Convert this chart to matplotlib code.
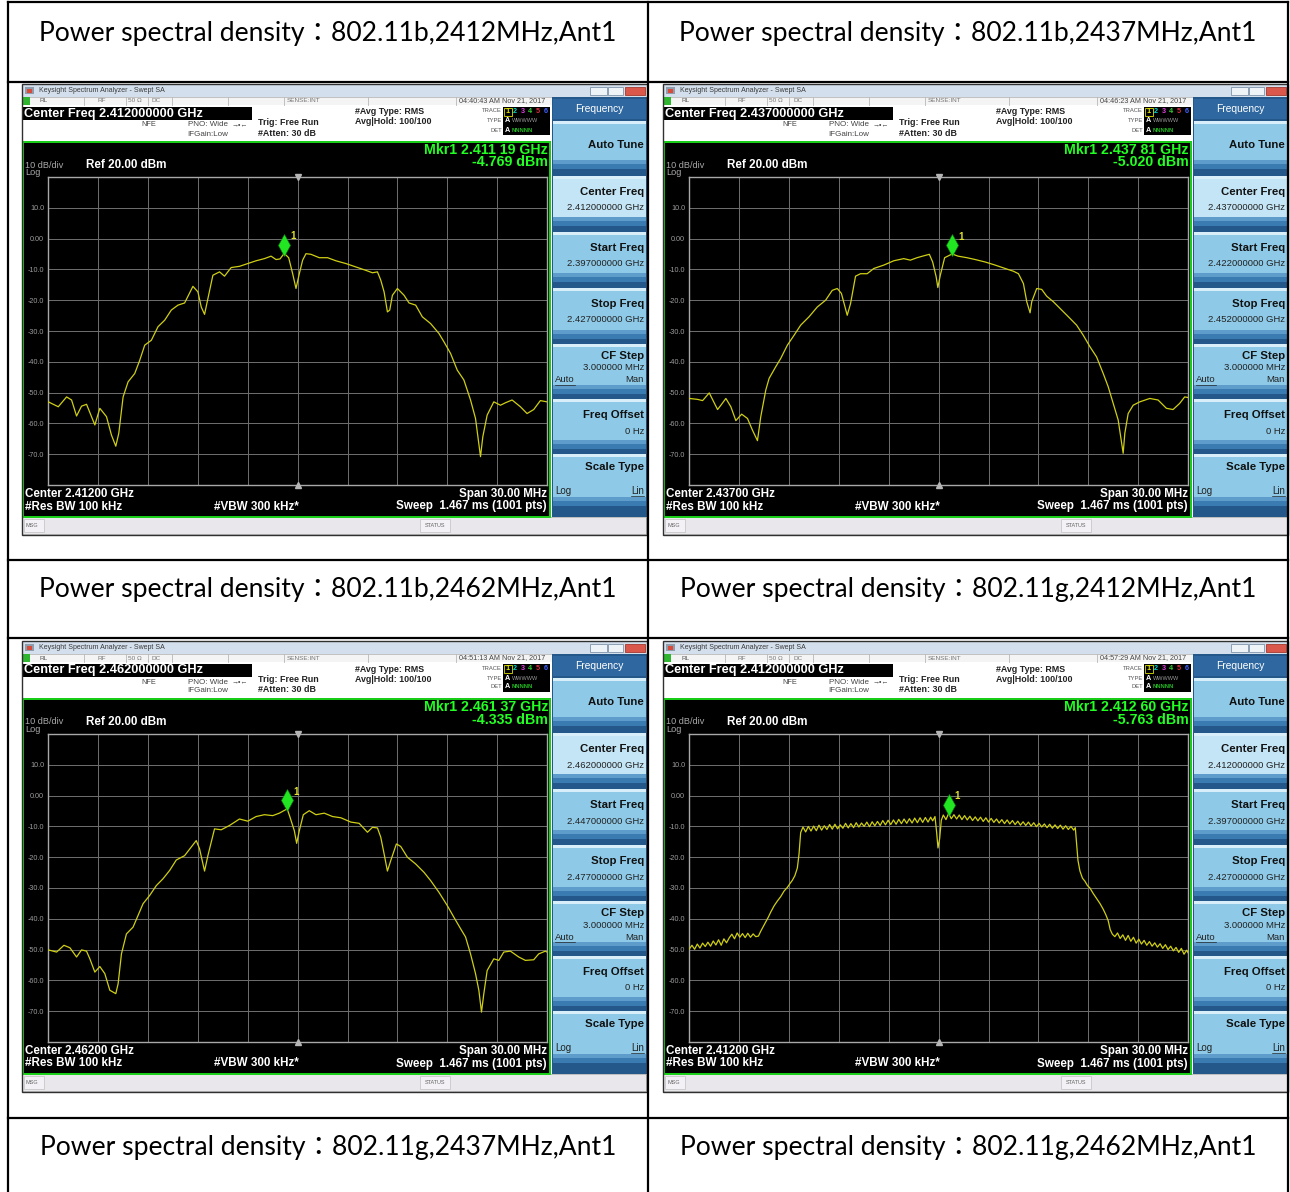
import numpy as np
import matplotlib.pyplot as plt
from matplotlib.patches import Rectangle

plt.rcParams['font.family'] = ['Liberation Sans', 'DejaVu Sans']

titles = [
    "Power spectral density：802.11b,2412MHz,Ant1",
    "Power spectral density：802.11b,2437MHz,Ant1",
    "Power spectral density：802.11b,2462MHz,Ant1",
    "Power spectral density：802.11g,2412MHz,Ant1",
    "Power spectral density：802.11g,2437MHz,Ant1",
    "Power spectral density：802.11g,2462MHz,Ant1",
]
centers = [2412, 2437, 2462, 2412]          # MHz
span = 30.0                                  # MHz
timestamps = ["04:40:43 AM Nov 21, 2017", "04:46:23 AM Nov 21, 2017",
              "04:51:13 AM Nov 21, 2017", "04:57:29 AM Nov 21, 2017"]
mkr_freq = [2411.19, 2437.81, 2461.37, 2412.60]   # MHz
mkr_level = [-4.769, -5.020, -4.335, -5.763]      # dBm
ylabels = ["10.0", "0.00", "-10.0", "-20.0", "-30.0", "-40.0", "-50.0", "-60.0", "-70.0"]

# trace 1 : 802.11b 2412 MHz  (offset from center in MHz, level in dBm)
off1 = [-15.0, -14.4, -13.9, -13.6, -13.3, -13.0, -12.7, -12.2, -11.9, -11.5,
        -11.2, -10.94, -10.76, -10.5, -10.2, -9.8, -9.5, -9.2, -8.8, -8.4,
        -8.0, -7.6, -7.2, -6.8, -6.3, -6.0, -5.8, -5.6, -5.4, -5.1,
        -4.7, -4.4, -4.0, -3.5, -3.0, -2.5, -2.0, -1.6, -1.3, -1.06,
        -0.81, -0.54, -0.3, -0.1, 0.1, 0.3, 0.5, 0.8, 1.3, 1.8,
        2.3, 2.9, 3.5, 4.1, 4.5, 4.8, 5.0, 5.2, 5.4, 5.54,
        5.7, 6.0, 6.4, 6.7, 7.1, 7.5, 8.0, 8.5, 8.8, 9.2,
        9.6, 10.0, 10.4, 10.7, 11.0, 11.14, 11.4, 11.8, 12.2, 12.5,
        12.9, 13.4, 13.8, 14.2, 14.6, 15.0]
lvl1 = [-53.0, -54.6, -51.4, -52.4, -57.6, -54.4, -53.8, -60.5, -55.1, -57.8,
        -63.8, -67.4, -63.2, -51.4, -46.5, -43.8, -39.5, -34.6, -33.0, -28.6,
        -26.5, -23.2, -21.6, -20.9, -15.5, -17.3, -22.2, -24.6, -19.5, -11.9,
        -10.8, -12.2, -9.4, -9.0, -8.1, -7.2, -6.5, -5.7, -6.8, -6.6,
        -4.8, -6.2, -11.4, -16.2, -11.4, -7.0, -4.9, -5.1, -6.2, -6.2,
        -7.2, -8.1, -9.2, -10.3, -11.1, -10.8, -13.5, -17.3, -23.8, -23.2,
        -18.4, -16.2, -18.4, -20.9, -21.6, -25.4, -27.6, -30.8, -33.5, -37.3,
        -42.7, -45.9, -52.4, -58.4, -70.8, -64.3, -57.3, -53.0, -54.1, -53.3,
        -52.4, -54.6, -56.8, -55.5, -52.6, -53.0]

# trace 2 : 802.11b 2437 MHz
off2 = [-15.0, -14.5, -14.2, -13.8, -13.3, -13.1, -12.8, -12.5, -12.2, -11.85,
        -11.5, -11.2, -10.9, -10.7, -10.4, -10.2, -9.8, -9.5, -9.1, -8.7,
        -8.3, -7.8, -7.3, -6.8, -6.4, -6.1, -5.85, -5.5, -5.3, -5.0,
        -4.7, -4.3, -3.9, -3.3, -2.7, -2.1, -1.7, -1.3, -0.97, -0.56,
        -0.36, -0.15, -0.05, 0.1, 0.36, 0.81, 1.17, 1.7, 2.2, 2.8,
        3.4, 4.0, 4.5, 4.8, 5.1, 5.3, 5.5, 5.6, 5.9, 6.2,
        6.5, 6.9, 7.4, 7.9, 8.3, 8.7, 9.1, 9.5, 9.9, 10.2,
        10.5, 10.8, 11.1, 11.2, 11.4, 11.7, 12.1, 12.7, 13.2, 13.7,
        14.1, 14.5, 14.8, 15.0]
lvl2 = [-51.9, -52.2, -52.6, -50.1, -55.5, -54.1, -51.9, -54.6, -59.1, -57.0,
        -58.4, -62.2, -65.6, -57.8, -49.2, -45.4, -41.6, -38.9, -34.6, -31.4,
        -28.1, -25.4, -22.2, -20.0, -16.8, -16.2, -17.8, -24.9, -21.1, -12.2,
        -11.4, -11.4, -9.7, -8.6, -7.2, -6.5, -7.0, -6.2, -5.7, -5.1,
        -7.6, -12.4, -15.9, -11.9, -6.2, -5.0, -5.7, -6.2, -6.8, -7.6,
        -8.6, -9.7, -10.6, -11.4, -14.6, -20.5, -24.1, -20.5, -16.2, -16.5,
        -18.7, -20.5, -23.2, -25.9, -28.1, -31.4, -35.1, -38.4, -43.8, -48.1,
        -53.5, -58.9, -69.7, -63.2, -56.8, -54.1, -53.0, -51.9, -52.4, -55.1,
        -55.5, -53.5, -51.4, -51.6]

# trace 3 : 802.11b 2462 MHz
off3 = [-15.0, -14.5, -14.06, -13.7, -13.3, -13.0, -12.7, -12.5, -12.2, -11.9,
        -11.6, -11.3, -10.94, -10.8, -10.6, -10.3, -9.9, -9.6, -9.3, -8.9,
        -8.5, -8.1, -7.7, -7.3, -6.8, -6.1, -5.9, -5.6, -5.4, -5.0,
        -4.6, -4.1, -3.5, -3.0, -2.5, -2.0, -1.5, -1.1, -0.63, -0.46,
        -0.2, -0.06, 0.1, 0.34, 0.7, 1.1, 1.6, 2.1, 2.6, 3.2,
        3.7, 4.2, 4.5, 4.8, 5.0, 5.2, 5.4, 5.6, 5.94, 6.2,
        6.6, 7.1, 7.6, 8.0, 8.5, 9.0, 9.4, 9.8, 10.1, 10.4,
        10.7, 10.9, 11.06, 11.2, 11.4, 11.8, 12.1, 12.4, 12.8, 13.3,
        13.7, 14.2, 14.5, 14.9, 15.0]
lvl3 = [-50.1, -50.8, -48.6, -49.4, -52.4, -50.1, -50.5, -53.0, -57.3, -55.5,
        -57.8, -63.2, -64.3, -61.1, -51.4, -44.9, -42.7, -38.9, -35.1, -32.4,
        -29.2, -27.0, -24.3, -20.9, -19.5, -14.6, -17.3, -24.5, -19.5, -10.8,
        -11.1, -9.7, -7.6, -8.3, -6.8, -6.2, -6.5, -5.7, -4.3, -7.0,
        -11.4, -15.5, -11.4, -6.2, -4.9, -6.2, -5.7, -6.8, -7.2, -8.6,
        -9.0, -11.9, -10.3, -10.5, -13.5, -18.9, -24.5, -21.1, -15.7, -16.5,
        -20.0, -22.2, -24.9, -27.6, -31.4, -35.7, -39.5, -43.2, -45.9, -51.4,
        -57.8, -63.2, -70.3, -64.3, -56.8, -53.0, -53.5, -50.8, -50.5, -52.4,
        -53.5, -53.3, -51.4, -50.5, -50.8]

# trace 4 : 802.11g 2412 MHz (OFDM ripple on the flat top)
off4 = [-15.0, -14.84, -14.68, -14.52, -14.36, -14.2, -14.04, -13.88, -13.72, -13.56,
        -13.4, -13.24, -13.08, -12.92, -12.76, -12.6, -12.44, -12.28, -12.12, -11.96,
        -11.8, -11.64, -11.48, -11.32, -11.16, -11.0, -10.84, -10.7, -10.55, -10.4,
        -10.25, -10.1, -9.9, -9.7, -9.5, -9.3, -9.1, -8.95, -8.8, -8.65,
        -8.5, -8.4, -8.3,
        -8.16, -8.0, -7.84, -7.68, -7.52, -7.36, -7.2, -7.04, -6.88, -6.72,
        -6.56, -6.4, -6.24, -6.08, -5.92, -5.76, -5.6, -5.44, -5.28, -5.12,
        -4.96, -4.8, -4.64, -4.48, -4.32, -4.16, -4.0, -3.84, -3.68, -3.52,
        -3.36, -3.2, -3.04, -2.88, -2.72, -2.56, -2.4, -2.24, -2.08, -1.92,
        -1.76, -1.6, -1.44, -1.28, -1.12, -0.96, -0.8, -0.64, -0.48,
        -0.36, -0.22, -0.12, -0.04, 0.06, 0.16, 0.28, 0.44, 0.6,
        0.76, 0.92, 1.08, 1.24, 1.4, 1.56, 1.72, 1.88, 2.04, 2.2,
        2.36, 2.52, 2.68, 2.84, 3.0, 3.16, 3.32, 3.48, 3.64, 3.8,
        3.96, 4.12, 4.28, 4.44, 4.6, 4.76, 4.92, 5.08, 5.24, 5.4,
        5.56, 5.72, 5.88, 6.04, 6.2, 6.36, 6.52, 6.68, 6.84, 7.0,
        7.16, 7.32, 7.48, 7.64, 7.8, 7.96, 8.12,
        8.22, 8.3, 8.38, 8.5, 8.65, 8.8, 8.95, 9.1, 9.3, 9.5,
        9.7, 9.9, 10.05, 10.2, 10.32, 10.45, 10.6, 10.76, 10.92, 11.08,
        11.24, 11.4, 11.56, 11.72, 11.88, 12.04, 12.2, 12.36, 12.52, 12.68,
        12.84, 13.0, 13.16, 13.32, 13.48, 13.64, 13.8, 13.96, 14.12, 14.28,
        14.44, 14.6, 14.76, 14.92, 15.0]
lvl4 = [-49.8, -48.6, -49.9, -48.2, -49.5, -47.9, -49.0, -47.6, -48.9, -47.2,
        -48.5, -46.8, -48.6, -46.5, -47.8, -46.2, -45.0, -46.5, -44.6, -46.0,
        -44.8, -46.1, -44.7, -46.0, -44.9, -45.8, -45.6, -44.0, -42.5, -41.0,
        -39.5, -37.8, -35.8, -34.2, -32.8, -31.0, -29.8, -28.6, -27.5, -26.0,
        -23.5, -19.0, -12.0,
        -10.2, -11.8, -10.0, -11.5, -9.9, -11.4, -9.6, -11.2, -9.8, -11.0,
        -9.4, -10.9, -9.3, -10.8, -9.5, -10.6, -9.0, -10.5, -9.1, -10.4,
        -8.8, -10.2, -8.9, -10.0, -8.6, -10.1, -8.5, -9.8, -8.4, -9.7,
        -8.1, -9.5, -8.0, -9.4, -7.9, -9.3, -7.7, -9.1, -7.6, -9.0,
        -7.5, -8.9, -7.3, -8.8, -7.2, -8.7, -7.1, -8.6, -7.0,
        -8.2, -6.8, -12.0, -17.0, -14.0, -8.0, -6.3, -7.8, -5.8,
        -7.5, -6.2, -7.6, -6.3, -7.8, -6.5, -7.9, -6.7, -8.1, -6.9,
        -8.2, -7.0, -8.4, -7.2, -8.6, -7.4, -8.7, -7.6, -8.9, -7.8,
        -9.1, -7.9, -9.2, -8.1, -9.4, -8.3, -9.6, -8.5, -9.7, -8.6,
        -9.9, -8.8, -10.1, -9.0, -10.2, -9.2, -10.4, -9.3, -10.6, -9.5,
        -10.7, -9.6, -10.9, -9.8, -11.0, -10.0, -11.2,
        -10.4, -15.5, -21.0, -24.5, -26.8, -27.8, -29.2, -30.0, -31.8, -33.4,
        -35.0, -36.9, -38.6, -40.6, -43.5, -45.0, -45.8, -44.6, -46.4, -45.2,
        -47.0, -45.4, -47.3, -46.0, -47.9, -46.6, -48.2, -47.0, -48.6, -47.4,
        -48.9, -47.8, -49.2, -48.1, -49.6, -48.4, -50.0, -48.9, -50.4, -49.3,
        -50.9, -49.6, -51.5, -50.2, -51.0]

offsets = [off1, off2, off3, off4]
levels = [lvl1, lvl2, lvl3, lvl4]

# ---------------- canvas in pixel coordinates ----------------
W, H = 1290, 1192
fig = plt.figure(figsize=(W / 100, H / 100), dpi=100)
fig.patch.set_facecolor('white')
bg = fig.add_axes([0, 0, 1, 1])
bg.set_xlim(0, W)
bg.set_ylim(H, 0)
bg.axis('off')


def box(x, y, w, h, fc, ec='none', lw=0.6, z=1):
    bg.add_patch(Rectangle((x, y), w, h, facecolor=fc, edgecolor=ec, linewidth=lw, zorder=z))


def txt(x, y, s, size=5.0, color='black', ha='left', weight='normal', **kw):
    bg.text(x, y, s, fontsize=size, color=color, ha=ha, va='center',
            fontweight=weight, zorder=6, **kw)


def draw_screen(k, ox, oy):
    c = centers[k]
    # window title bar
    box(ox, oy, 624, 13, '#d3dfec')
    box(ox + 3, oy + 3, 9, 7, '#8f9cab')
    box(ox + 5, oy + 4.5, 5, 4, '#d84a3a')
    txt(ox + 17, oy + 6.5, 'Keysight Spectrum Analyzer - Swept SA', 5.0, '#3a3a3a')
    box(ox + 568, oy + 3, 17, 8, '#eef3f8', '#7f93aa')
    box(ox + 586, oy + 3, 15, 8, '#eef3f8', '#7f93aa')
    box(ox + 603, oy + 3, 20, 8, '#d9574b', '#a33a30')

    # status line
    box(ox, oy + 13, 530, 8, '#f4f4f4', '#b8b8b8')
    box(ox, oy + 13, 8, 8, '#2fb52f')
    for cx in [62, 104, 126, 150, 206, 262, 346, 434]:
        bg.plot([ox + cx] * 2, [oy + 13, oy + 21], color='#b8b8b8', lw=0.6, zorder=2)
    txt(ox + 18, oy + 17, 'RL', 4.6, '#555')
    txt(ox + 75, oy + 17, 'RF', 4.6, '#777')
    txt(ox + 106, oy + 17, '50 Ω', 4.6, '#777')
    txt(ox + 130, oy + 17, 'DC', 4.6, '#777')
    txt(ox + 282, oy + 17, 'SENSE:INT', 4.6, '#777', ha='center')
    txt(ox + 480, oy + 17, timestamps[k], 5.2, '#444', ha='center')

    # header
    box(ox, oy + 21, 530, 36, 'white')
    box(ox, oy + 23, 230, 13, 'black')
    txt(ox + 2, oy + 29.5, 'Center Freq %.9f GHz' % (c / 1000), 9.2, 'white', weight='bold')
    txt(ox + 127, oy + 41, 'NFE', 5.3, '#444', ha='center')
    txt(ox + 166, oy + 41, 'PNO: Wide', 5.8, '#444')
    txt(ox + 165, oy + 50, 'IFGain:Low', 5.8, '#444')
    txt(ox + 210, oy + 41, '→•←', 5.0, '#444')
    txt(ox + 236, oy + 38.5, 'Trig: Free Run', 6.4, '#222', weight='bold')
    txt(ox + 236, oy + 49, '#Atten: 30 dB', 6.4, '#222', weight='bold')
    txt(ox + 333, oy + 28, '#Avg Type: RMS', 6.4, '#222', weight='bold')
    txt(ox + 333, oy + 38, 'Avg|Hold: 100/100', 6.4, '#222', weight='bold')
    txt(ox + 480, oy + 27, 'TRACE', 4.2, '#555', ha='right')
    txt(ox + 480, oy + 37, 'TYPE', 4.2, '#555', ha='right')
    txt(ox + 480, oy + 46, 'DET', 4.2, '#555', ha='right')
    box(ox + 481, oy + 23, 47, 28, 'black')
    box(ox + 482, oy + 23.5, 7.5, 8, 'none', '#e0e000', lw=0.6, z=3)
    tcols = ['#e8e800', '#00d8d8', '#e040e0', '#30d030', '#e03040', '#4060ff']
    for i in range(6):
        txt(ox + 485.5 + i * 7.6, oy + 27.5, str(i + 1), 5.2, tcols[i], ha='center', weight='bold')
    txt(ox + 485.5, oy + 37, 'A', 5.2, 'white', ha='center', weight='bold')
    txt(ox + 489.5, oy + 37, 'WWWWW', 4.0, '#9a9a9a')
    txt(ox + 485.5, oy + 46, 'A', 5.2, 'white', ha='center', weight='bold')
    txt(ox + 489.5, oy + 46, 'NNNNN', 4.3, '#20c020', weight='bold')

    # soft-key panel
    box(ox + 530, oy + 13, 95, 420, '#24578a')
    box(ox + 531, oy + 15, 93, 20, '#2f68a0')
    txt(ox + 577, oy + 25, 'Frequency', 7.4, 'white', ha='center')
    btn_top = [37, 92, 148, 204, 260, 315, 370]
    btn_h = [48, 50, 50, 51, 50, 50, 52]
    for i in range(7):
        t, h = btn_top[i], btn_h[i]
        body = '#c4e5f5' if i == 1 else '#8ecae7'
        box(ox + 531, oy + t, 93, h, body)
        box(ox + 531, oy + t, 93, 3, '#d8effa')
        box(ox + 531, oy + t + h - 9, 93, 4, '#5d9ccb')
        box(ox + 531, oy + t + h - 5, 93, 5, '#3a7cb2')
    R = ox + 622
    bsz, vsz = 8.2, 6.8
    txt(R, oy + 61, 'Auto Tune', bsz, '#111', ha='right', weight='bold')
    txt(R, oy + 108, 'Center Freq', bsz, '#111', ha='right', weight='bold')
    txt(R, oy + 124, '%.9f GHz' % (c / 1000), vsz, '#222', ha='right')
    txt(R, oy + 164, 'Start Freq', bsz, '#111', ha='right', weight='bold')
    txt(R, oy + 180, '%.9f GHz' % ((c - span / 2) / 1000), vsz, '#222', ha='right')
    txt(R, oy + 220, 'Stop Freq', bsz, '#111', ha='right', weight='bold')
    txt(R, oy + 236, '%.9f GHz' % ((c + span / 2) / 1000), vsz, '#222', ha='right')
    txt(R, oy + 272, 'CF Step', bsz, '#111', ha='right', weight='bold')
    txt(R, oy + 284, '3.000000 MHz', vsz, '#222', ha='right')
    txt(ox + 533, oy + 296, 'Auto', vsz, '#222')
    bg.plot([ox + 533, ox + 553], [oy + 301, oy + 301], color='#222', lw=0.5, zorder=6)
    txt(R, oy + 296, 'Man', vsz, '#222', ha='right')
    txt(R, oy + 331, 'Freq Offset', bsz, '#111', ha='right', weight='bold')
    txt(R, oy + 347, '0 Hz', vsz, '#222', ha='right')
    txt(R, oy + 383, 'Scale Type', bsz, '#111', ha='right', weight='bold')
    txt(ox + 533, oy + 407, 'Log', 7.0, '#222')
    txt(R, oy + 407, 'Lin', 7.0, '#222', ha='right')
    bg.plot([R - 13, R], [oy + 412, oy + 412], color='#222', lw=0.5, zorder=6)

    # black display with green frame
    box(ox, oy + 57, 529, 376, 'black')
    box(ox + 0.8, oy + 57.5, 527, 375, 'none', '#19d219', lw=1.4, z=4)
    mf = mkr_freq[k]
    ms = '%.5f' % (mf / 1000)
    txt(ox + 526, oy + 66, 'Mkr1 %s %s GHz' % (ms[:5], ms[5:]), 10.2, '#22ff22', ha='right', weight='bold')
    txt(ox + 526, oy + 78.5, '%.3f dBm' % mkr_level[k], 10.2, '#22ff22', ha='right', weight='bold')
    txt(ox + 3, oy + 81, '10 dB/div', 6.6, '#a8a8a8')
    txt(ox + 3, oy + 88.5, 'Log', 6.6, '#a8a8a8')
    txt(ox + 64, oy + 81, 'Ref 20.00 dBm', 8.4, 'white', weight='bold')
    txt(ox + 3, oy + 410, 'Center %.5f GHz' % (c / 1000), 8.4, 'white', weight='bold')
    txt(ox + 3, oy + 422.5, '#Res BW 100 kHz', 8.4, 'white', weight='bold')
    txt(ox + 192, oy + 422.5, '#VBW 300 kHz*', 8.4, 'white', weight='bold')
    txt(ox + 525, oy + 410, 'Span %.2f MHz' % span, 8.4, 'white', ha='right', weight='bold')
    txt(ox + 525, oy + 422.5, 'Sweep  1.467 ms (1001 pts)', 8.4, 'white', ha='right', weight='bold')

    # MSG / STATUS bar
    box(ox, oy + 433, 624, 17, '#e9e6ec', '#b5b5b5')
    box(ox + 2, oy + 435, 20, 13, '#f3f1f5', '#c8c8c8')
    txt(ox + 4, oy + 441.5, 'MSG', 4.0, '#666')
    box(ox + 398, oy + 435, 30, 13, '#f3f1f5', '#c8c8c8')
    txt(ox + 413, oy + 441.5, 'STATUS', 4.0, '#666', ha='center')
    box(ox - 0.5, oy - 0.5, 625, 451, 'none', '#303030', lw=1.0, z=5)

    # graticule and trace
    x0, y0, x1, y1 = ox + 26.3, oy + 93, ox + 525, oy + 401
    ax = fig.add_axes([x0 / W, 1 - y1 / H, (x1 - x0) / W, (y1 - y0) / H])
    ax.set_facecolor('black')
    ax.set_xlim(c - span / 2, c + span / 2)
    ax.set_ylim(-80, 20)
    ax.set_xticks(c + np.arange(-12, 13, 3))
    ax.set_yticks(np.arange(10, -71, -10))
    ax.set_yticklabels(ylabels)
    ax.tick_params(axis='x', length=0, labelbottom=False)
    ax.tick_params(axis='y', length=0, pad=3, labelsize=5.2, labelcolor='#9c9c9c')
    ax.grid(True, color='#707070', lw=0.7)
    for sp in ax.spines.values():
        sp.set_color('#a8a8a8')
        sp.set_linewidth(1.0)
    ax.plot(c + np.array(offsets[k]), levels[k], color='#cfcf14', lw=0.9, zorder=3)
    ax.plot([c], [20], marker='v', ms=4, color='#b5b5b5', clip_on=False, zorder=4)
    ax.plot([c], [-80], marker='^', ms=4, color='#b5b5b5', clip_on=False, zorder=4)
    ax.plot([mf], [mkr_level[k] + 2.8], marker='d', ms=11, color='#22e622',
            mec='#0c8c0c', mew=0.4, zorder=5)
    ax.text(mf + 0.35, mkr_level[k] + 5.5, '1', color='#e0e030', fontsize=7,
            fontweight='bold', va='center', zorder=5)


origins = [(22, 84), (663, 84), (22, 641), (663, 641)]
for k in range(4):
    draw_screen(k, *origins[k])

# ---------------- table grid and captions ----------------
for x in [8, 648, 1288]:
    bg.plot([x, x], [2, H], color='black', lw=1.6, zorder=7)
for y in [2, 82, 560, 638, 1118]:
    bg.plot([8, 1288], [y, y], color='black', lw=1.6, zorder=7)

title_pos = [(328, 33), (968, 33), (328, 590), (968, 590), (328, 1147), (968, 1147)]
for s, (tx, ty) in zip(titles, title_pos):
    bg.text(tx, ty, s, fontsize=19.1, ha='center', va='center', color='black',
            family=['Lato', 'Noto Sans CJK JP'], zorder=7)

fig.savefig('out.png', dpi=100)
